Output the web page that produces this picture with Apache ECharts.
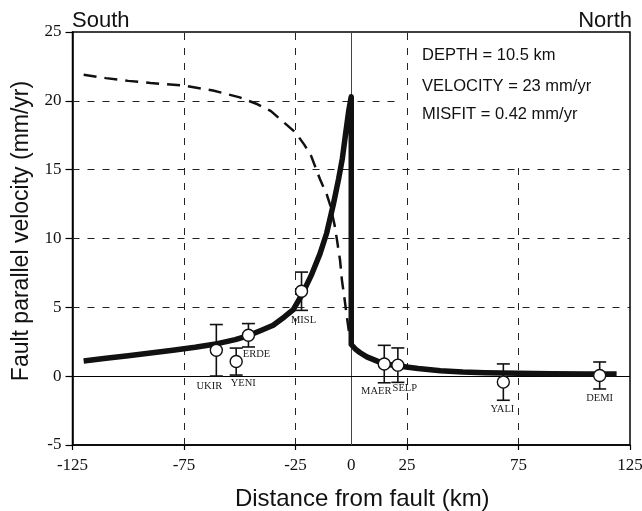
<!DOCTYPE html>
<html>
<head>
<meta charset="utf-8">
<script src="https://cdn.jsdelivr.net/npm/echarts@6/dist/echarts.min.js"></script>
<style>html,body{margin:0;padding:0;background:#fff}#c{width:642px;height:511px}</style>
</head>
<body>
<div id="c"></div>
<script>
// ---- data ----
const stationNames = ['UKIR','YENI','ERDE','MISL','MAER','SELP','YALI','DEMI'];
const stationX     = [-60.5, -51.6, -46.1, -22.3, 14.8, 20.9, 68.2, 111.4];
const stationV     = [1.88, 1.06, 2.97, 6.17, 0.88, 0.80, -0.43, 0.05];
const stationErr   = [1.87, 0.98, 0.85, 1.39, 1.36, 1.25, 1.32, 0.98];

const modelX = [-120,-110,-100,-90,-80,-70,-60,-52,-46,-40,-35,-30,-26,-22,-18,-14,-11,-8,-5.7,-4,-2.7,-1.2,0,
                0,2,4,7,10,13,17,22,30,40,50,60,75,90,105,119];
const modelV = [1.1,1.3,1.48,1.68,1.88,2.1,2.36,2.65,2.95,3.35,3.7,4.3,4.84,5.95,7.3,8.9,10.4,12.5,14.3,15.8,17.4,19.2,20.3,
                2.3,1.95,1.7,1.4,1.2,1.0,0.85,0.72,0.55,0.4,0.3,0.25,0.21,0.18,0.16,0.15];

const dashX = [-120,-110,-100,-90,-75,-62,-50,-42,-36,-30,-25,-21,-18,-14,-11,-9.4,-7.5,-6.4,-5,-4.2,-3,-2.2,-1,0];
const dashV = [21.9,21.65,21.45,21.3,21.1,20.75,20.25,19.75,19.25,18.4,17.7,16.8,16.0,14.3,13.2,12.4,11.0,9.9,8.4,7.0,5.6,4.6,3.2,2.3];

const xLabelValues = [-125,-75,-25,0,25,75,125];
const xTickValues  = [-125,-75,-25,25,75,125];
// grid segments: [x1, y1, x2, y2] in data units (the text box interrupts some of them)
const gridSegments = [
  [-75,-5,-75,25], [-25,-5,-25,25], [25,-5,25,25], [75,-5,75,15.2],
  [-125,5,125,5], [-125,10,125,10], [-125,15,125,15], [-125,20,22,20]
];

const infoLines = ['DEPTH = 10.5 km', 'VELOCITY = 23 mm/yr', 'MISFIT = 0.42 mm/yr'];

// ---- styles (not data) ----
const labelOffsets = [[-7,36],[7,22],[8,19],[2,29],[-8,27],[7,23],[-1,27],[0,23]];
const infoTops = [46.5, 77.5, 105.5];

const chart = echarts.init(document.getElementById('c'), null, {renderer:'canvas'});
const serif = 'Liberation Serif, Times New Roman, serif';
const sans = 'Liberation Sans, Arial, Helvetica, sans-serif';

const dashStyle = {type:[7,8], color:'#222', width:1};
const gridMarks = gridSegments.map(s => [
  {coord:[s[0], s[1]], lineStyle:dashStyle}, {coord:[s[2], s[3]]}
]);
gridMarks.push({xAxis:0, lineStyle:{type:'solid', color:'#444', width:1}});
gridMarks.push({yAxis:0, lineStyle:{type:'solid', color:'#000', width:1.2}});

const graphics = [
  {type:'text', left:72, top:10, style:{text:'South', font:'22px '+sans, fill:'#111'}},
  {type:'text', right:10, top:10, style:{text:'North', font:'22px '+sans, fill:'#111'}}
];
infoLines.forEach((t,i) => graphics.push({type:'text', left:422, top:infoTops[i], z:100,
  style:{text:t, font:'16.5px '+sans, fill:'#111'}}));

const option = {
  animation:false,
  grid:{left:72.5, right:12, top:32, bottom:66, outerBoundsMode:'none', containLabel:false,
        show:true, borderColor:'#000', borderWidth:1.5, backgroundColor:'transparent'},
  xAxis:{
    type:'value', min:-125, max:125,
    name:'Distance from fault (km)', nameLocation:'middle', nameGap:42,
    nameTextStyle:{fontFamily:sans, fontSize:24, color:'#111', padding:[0,0,0,22]},
    axisLine:{show:true, onZero:false, lineStyle:{color:'#000', width:1.5}},
    axisTick:{show:true, length:5, customValues:xTickValues, lineStyle:{color:'#000', width:1.2}},
    axisLabel:{customValues:xLabelValues, fontFamily:serif, fontSize:17, color:'#111', margin:12},
    splitLine:{show:false}
  },
  yAxis:{
    type:'value', min:-5, max:25, interval:5,
    name:'Fault parallel velocity (mm/yr)', nameLocation:'middle', nameGap:36, nameRotate:90,
    nameTextStyle:{fontFamily:sans, fontSize:23, color:'#111', padding:[0,0,0,15]},
    axisLine:{show:true, onZero:false, lineStyle:{color:'#000', width:1.5}},
    axisTick:{show:true, length:7, lineStyle:{color:'#000', width:1.2}},
    axisLabel:{fontFamily:serif, fontSize:17, color:'#111', margin:11},
    splitLine:{show:false}
  },
  graphic:graphics,
  series:[
    {
      type:'line', name:'dash', data:dashX.map((x,i)=>[x,dashV[i]]),
      showSymbol:false, symbol:'none', z:2,
      lineStyle:{color:'#111', width:2.5, type:[13,8]},
      markLine:{silent:true, symbol:'none', label:{show:false}, z:1, data:gridMarks}
    },
    {
      type:'line', name:'model', data:modelX.map((x,i)=>[x,modelV[i]]),
      showSymbol:false, symbol:'none', z:3,
      lineStyle:{color:'#111', width:5.5, cap:'butt', join:'round'}
    },
    {
      type:'custom', name:'err', z:4,
      data:stationX.map((x,i)=>[x, stationV[i]-stationErr[i], stationV[i]+stationErr[i]]),
      renderItem:function(params, api){
        const x = api.value(0);
        const lo = api.coord([x, api.value(1)]);
        const hi = api.coord([x, api.value(2)]);
        const w = 6.5;
        const st = {stroke:'#111', lineWidth:1.6};
        return {type:'group', children:[
          {type:'line', shape:{x1:lo[0], y1:lo[1], x2:hi[0], y2:hi[1]}, style:st},
          {type:'line', shape:{x1:lo[0]-w, y1:lo[1], x2:lo[0]+w, y2:lo[1]}, style:st},
          {type:'line', shape:{x1:hi[0]-w, y1:hi[1], x2:hi[0]+w, y2:hi[1]}, style:st}
        ]};
      }
    },
    {
      type:'scatter', name:'stations', z:5,
      symbol:'circle', symbolSize:12,
      itemStyle:{color:'#fff', borderColor:'#111', borderWidth:1.4, opacity:1},
      label:{show:true, position:'inside', formatter:'{b}', fontFamily:serif, fontSize:10.5, color:'#222'},
      data:stationNames.map((n,i)=>({name:n, value:[stationX[i], stationV[i]], label:{offset:labelOffsets[i]}}))
    }
  ]
};
chart.setOption(option);
</script>
</body>
</html>
